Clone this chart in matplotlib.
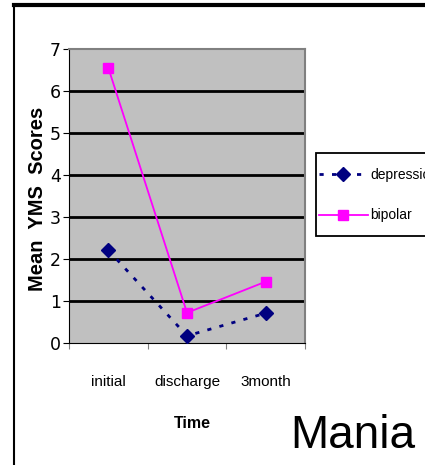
import matplotlib
matplotlib.use("Agg")
import matplotlib.pyplot as plt
from matplotlib.lines import Line2D
from matplotlib.patches import Rectangle

categories = ["initial", "discharge", "3month"]
depression = [2.21, 0.17, 0.71]
bipolar = [6.55, 0.72, 1.46]
yticks = [0, 1, 2, 3, 4, 5, 6, 7]

fig = plt.figure(figsize=(4.25, 4.65), dpi=100)
W, H = 425, 465

# frame lines of the slide
fig.add_artist(Line2D([14 / W, 1], [1 - 5 / H, 1 - 5 / H], color="black", lw=3))
fig.add_artist(Line2D([14 / W, 14 / W], [0, 1 - 5 / H], color="black", lw=1.5))

ax = fig.add_axes([69 / W, 1 - 343 / H, (305 - 69) / W, (343 - 49) / H])
ax.set_facecolor("#C0C0C0")
x = list(range(len(categories)))

ax.set_xlim(-0.5, 2.5)
ax.set_ylim(0, 7)
for v in yticks[1:-1]:
    ax.axhline(v, color="black", lw=2, zorder=1)

ax.plot(x, depression, color="#000080", ls=(0, (1.5, 3)), lw=2, marker="D",
        markersize=7, markerfacecolor="#000080", markeredgecolor="#000080",
        label="depression", zorder=3)
ax.plot(x, bipolar, color="#FF00FF", ls="-", lw=1.3, marker="s",
        markersize=7, markerfacecolor="#FF00FF", markeredgecolor="#FF00FF",
        label="bipolar", zorder=3)

for s in ["top", "right"]:
    ax.spines[s].set_color("#808080")
    ax.spines[s].set_linewidth(1.5)

ax.set_yticks(yticks)
ax.set_yticklabels([str(v) for v in yticks], fontsize=12.5, fontfamily="DejaVu Sans")
ax.set_xticks([-0.5, 0.5, 1.5, 2.5])
ax.set_xticklabels([])
ax.tick_params(axis="x", length=4, color="#808080")
ax.tick_params(axis="y", length=4, pad=2)
for i, c in enumerate(categories):
    ax.text(i, -0.75, c, ha="center", va="top", fontsize=11,
            fontfamily="Liberation Sans")

fig.text(38 / W, 1 - 199 / H, "Mean  YMS  Scores", rotation=90, ha="center",
         va="center", fontfamily="Liberation Sans", fontweight="bold", fontsize=14.5)
fig.text(192 / W, 1 - 423 / H, "Time", ha="center", va="center",
         fontweight="bold", fontsize=11.5, fontfamily="Liberation Sans")

# legend box
fig.add_artist(Rectangle((316 / W, 1 - 236 / H), (W + 5 - 316) / W, (236 - 153) / H,
                         transform=fig.transFigure, facecolor="white",
                         edgecolor="black", lw=1.3))
leg = fig.legend(loc="upper left", bbox_to_anchor=(319 / W, 1 - 168 / H),
                 borderaxespad=0, borderpad=0, frameon=False,
                 prop={"family": "Liberation Sans", "size": 10},
                 handlelength=3.5, labelspacing=1.9, handletextpad=0.2)

fig.text(290 / W, 1 - 436 / H, "Mania", ha="left", va="center",
         fontfamily="Liberation Sans", fontsize=33)

fig.savefig("out.png", dpi=100)
